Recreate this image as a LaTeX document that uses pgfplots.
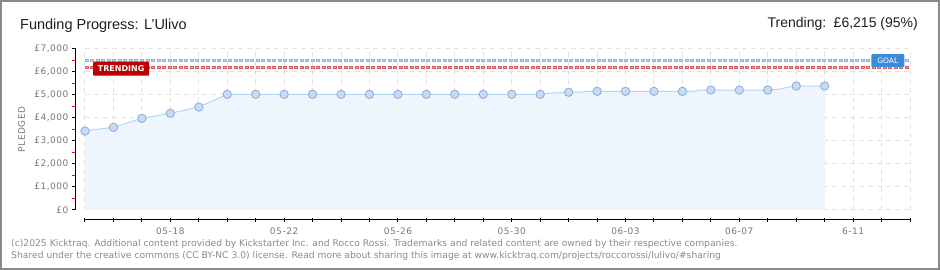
\documentclass[border=0pt]{standalone}
\usepackage{fontspec}
\setmainfont{Liberation Sans}
\newfontfamily\djv{DejaVu Sans}
\newfontfamily\djvs[LetterSpace=6]{DejaVu Sans}
\usepackage{pgfplots}
\pgfplotsset{compat=1.18}
\definecolor{gridc}{HTML}{E2E2E2}
\definecolor{framec}{HTML}{8A8A8A}
\definecolor{labc}{HTML}{777777}
\definecolor{footc}{HTML}{8A8A8A}
\definecolor{titlec}{HTML}{1E1E1E}
\definecolor{fillc}{HTML}{EEF5FD}
\definecolor{linec}{HTML}{B5D3F3}
\definecolor{markc}{HTML}{C4DCF7}
\definecolor{markedge}{HTML}{8FAAD0}
\definecolor{goalc}{HTML}{86B6E8}
\definecolor{goall}{HTML}{C0DAF4}
\definecolor{trendc}{HTML}{D85A5C}
\definecolor{trendl}{HTML}{F0AAAA}
\definecolor{trendbox}{HTML}{BF0000}
\definecolor{goalbox}{HTML}{3B8BD9}
\begin{document}
\begin{tikzpicture}[x=1pt,y=1pt]
\path[use as bounding box] (0,0) rectangle (940,270);
\draw[framec, line width=2pt] (1,1) rectangle (939,269);
\node[anchor=base west, inner sep=0, text=titlec, font=\fontsize{14.5}{16}\selectfont] at (20,240.7) {Funding Progress: L'Ulivo};
\node[anchor=base east, inner sep=0, text=titlec, font=\fontsize{14}{16}\selectfont] at (918,242.7) {Trending:\, £6,215 (95\%)};
\node[anchor=base west, inner sep=0, text=footc, font=\djv\fontsize{9.2}{10}\selectfont] at (11,23.3) {(c)2025 Kicktraq. Additional content provided by Kickstarter Inc. and Rocco Rossi. Trademarks and related content are owned by their respective companies.};
\node[anchor=base west, inner sep=0, text=footc, font=\djv\fontsize{9.2}{10}\selectfont] at (11,11.3) {Shared under the creative commons (CC BY-NC 3.0) license. Read more about sharing this image at www.kicktraq.com/projects/roccorossi/lulivo/\#sharing};
\begin{axis}[
  at={(85pt,60pt)}, anchor=south west,
  scale only axis, width=825pt, height=161pt,
  xmin=0, xmax=29, ymin=0, ymax=7000,
  clip=false,
  axis x line=bottom, axis y line=left,
  axis x line shift=10pt, axis y line shift=9pt,
  axis line style={-, black, line width=1pt},
  xtick={0,...,29},
  xticklabels={,,,05-18,,,,05-22,,,,05-26,,,,05-30,,,,06-03,,,,06-07,,,,6-11,,},
  ytick={0,1000,...,7000},
  yticklabels={{£0},{£1,000},{£2,000},{£3,000},{£4,000},{£5,000},{£6,000},{£7,000}},
  minor ytick={500,1500,...,6500},
  tick align=outside,
  major tick length=4pt, minor tick length=3.5pt,
  tick style={black, line width=1pt},
  minor tick style={red, line width=1pt},
  every major x tick/.append style={yshift=2pt},
  xmajorgrids, ymajorgrids,
  major grid style={gridc, line width=1pt, dash pattern=on 5pt off 4pt},
  ticklabel style={text=labc, font=\djvs\fontsize{9}{10}\selectfont},
  ylabel={PLEDGED},
  ylabel style={at={(axis description cs:-0.077,0.5)}, anchor=center, text=labc, font=\djvs\fontsize{9}{10}\selectfont},
]
\addplot[draw=none, fill=fillc] coordinates {
(0,3435)(1,3595)(2,3985)(3,4203)(4,4478)(5,5030)(16,5030)(16.25,5075)(17,5120)(17.5,5125)(17.55,5160)(18,5160)(21,5160)(21.5,5165)(21.55,5205)(22,5217)(24,5217)(24.4,5250)(24.7,5335)(25,5390)(26,5390)
} \closedcycle;
\addplot[goalc, line width=3pt, dash pattern=on 4pt off 1.5pt] coordinates {(0,6500)(29,6500)};
\addplot[goall, line width=1pt, dash pattern=on 2pt off 3.5pt, dash phase=4.5pt] coordinates {(0,6500)(29,6500)};
\addplot[trendc, line width=3pt, dash pattern=on 4pt off 1.5pt] coordinates {(0,6215)(29,6215)};
\addplot[trendl, line width=1pt, dash pattern=on 2pt off 3.5pt, dash phase=4.5pt] coordinates {(0,6215)(29,6215)};
\addplot[linec, line width=1pt] coordinates {
(0,3435)(1,3595)(2,3985)(3,4203)(4,4478)(5,5030)(16,5030)(16.25,5075)(17,5120)(17.5,5125)(17.55,5160)(18,5160)(21,5160)(21.5,5165)(21.55,5205)(22,5217)(24,5217)(24.4,5250)(24.7,5335)(25,5390)(26,5390)
};
\addplot[only marks, mark=*, mark size=4.2pt, mark options={fill=markc, draw=markedge, line width=0.8pt}] coordinates {
(0,3435)(1,3595)(2,3985)(3,4203)(4,4478)(5,5030)(6,5030)(7,5030)(8,5030)(9,5030)(10,5030)(11,5030)(12,5030)(13,5030)(14,5030)(15,5030)(16,5030)(17,5120)(18,5160)(19,5160)(20,5160)(21,5160)(22,5217)(23,5217)(24,5217)(25,5390)(26,5390)
};
\node[fill=trendbox, text=white, inner sep=0, rounded corners=1pt, minimum width=56pt, minimum height=14pt, font=\djv\bfseries\fontsize{8}{9}\selectfont] at (axis cs:1.27,6143) {TRENDING};
\node[fill=goalbox, text=white, inner sep=0, rounded corners=1pt, minimum width=33pt, minimum height=13pt, font=\djv\fontsize{7.5}{9}\selectfont] at (axis cs:28.22,6491) {GOAL};
\end{axis}
\end{tikzpicture}
\end{document}
